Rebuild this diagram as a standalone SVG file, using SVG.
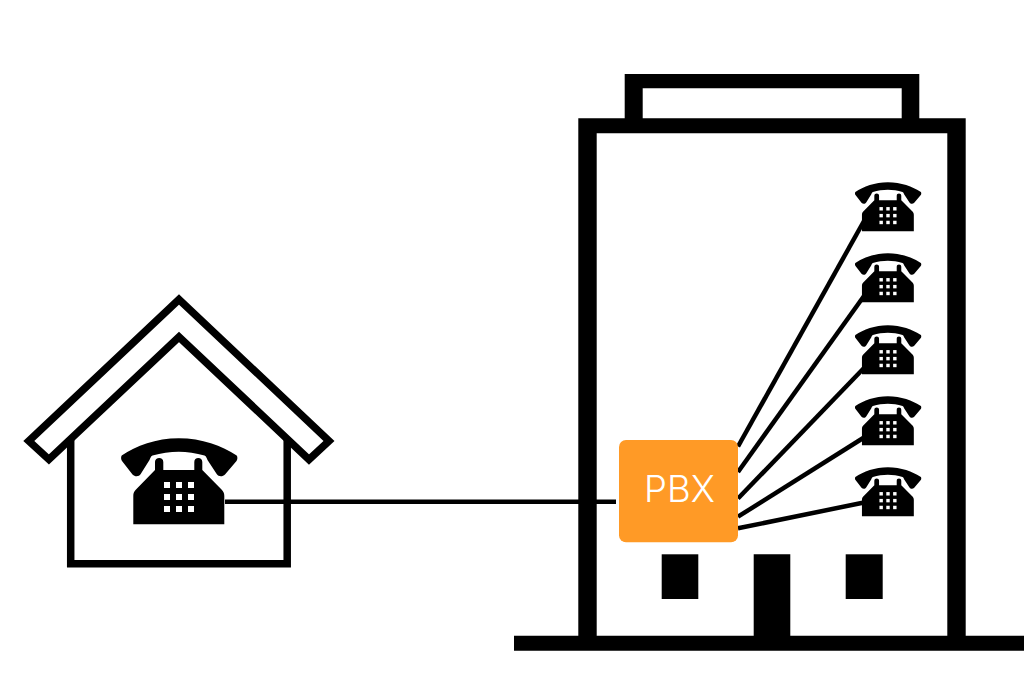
<svg xmlns="http://www.w3.org/2000/svg" width="1024" height="693" viewBox="0 0 1024 693">
<style>
.ink{fill:#000}
.wire{stroke:#000;stroke-width:4.500;fill:none}
.outline{stroke:#000;stroke-width:7.500;fill:none;stroke-linejoin:miter}
.key{fill:#fff}
.label{font-family:"Inter","Open Sans","Liberation Sans",sans-serif;font-weight:300;font-size:36.500px;fill:#fff}
</style>
<defs>
<g id="phone">
<path class="ink" d="M121.700 455.500C136 446 156 438.300 178.800 438.300C202 438.300 222 446 236.700 455.500C237.800 457 237.500 459.500 236.500 461L225 474.500C222.500 477 218.500 476.800 216.700 474L207.500 460C206.500 458 206.500 456.500 204.500 455.500C196 453 187 451.700 178.800 451.700C170 451.700 161 453 152.500 455.500C150.500 456.500 150.500 458 149.500 460L140.700 474C139 476.800 135 477 132.500 474.500L122 461C121 459.500 120.700 457 121.700 455.500Z"/>
<path class="ink" d="M133.300 524.300V496C133.300 493 134 491.500 136 489.500L155 470V462C155 459.500 157 458 159.200 458C161.500 458 163.300 459.500 163.300 462V470H194.300V462C194.300 459.500 196 458 198.300 458C200.500 458 202.300 459.500 202.300 462V470L221.500 489.500C223.500 491.500 224.300 493 224.300 496V524.300Z"/>
<g class="key">
<rect x="164" y="482" width="6" height="6"/><rect x="176" y="482" width="6" height="6"/><rect x="188" y="482" width="6" height="6"/>
<rect x="164" y="494" width="6" height="6"/><rect x="176" y="494" width="6" height="6"/><rect x="188" y="494" width="6" height="6"/>
<rect x="164" y="506" width="6" height="6"/><rect x="176" y="506" width="6" height="6"/><rect x="188" y="506" width="6" height="6"/>
</g>
</g>
</defs>
<rect width="1024" height="693" fill="#fff"/>
<g id="house">
<path class="outline" d="M70.700 436V563.700H287.200V436"/>
<path class="outline" style="fill:#fff" d="M179 299.400L329 441L309 459.500L179 336.900L48.900 459.500L28.800 441Z"/>
</g>
<g id="building">
<path class="ink" fill-rule="evenodd" d="M624.700 74H919.300V118.300H965.700V635.700H1024V650.700H514V635.700H578.300V118.300H624.700ZM642.700 88.300V118.300H901.700V88.300ZM596.700 133.300V635.700H753.700V554.300H790.300V635.700H947.300V133.300Z"/>
<rect class="ink" x="661.700" y="554.300" width="36.600" height="44.700"/>
<rect class="ink" x="845.700" y="554.300" width="37" height="44.700"/>
</g>
<g id="connectors">
<line class="wire" x1="225" y1="501.700" x2="616" y2="501.700"/>
<line class="wire" x1="738" y1="446.500" x2="864" y2="221"/>
<line class="wire" x1="738" y1="472" x2="864" y2="296"/>
<line class="wire" x1="738" y1="498.500" x2="864" y2="368"/>
<line class="wire" x1="738" y1="516.700" x2="864" y2="437.500"/>
<line class="wire" x1="738" y1="528.300" x2="864" y2="502.500"/>
</g>
<g id="home-phone"><use href="#phone"/></g>
<g id="office-phone-1"><use href="#phone" transform="translate(888 182) scale(.57) translate(-179 -438)"/></g>
<g id="office-phone-2"><use href="#phone" transform="translate(888 253) scale(.57) translate(-179 -438)"/></g>
<g id="office-phone-3"><use href="#phone" transform="translate(888 325) scale(.57) translate(-179 -438)"/></g>
<g id="office-phone-4"><use href="#phone" transform="translate(888 396) scale(.57) translate(-179 -438)"/></g>
<g id="office-phone-5"><use href="#phone" transform="translate(888 467) scale(.57) translate(-179 -438)"/></g>
<g id="pbx">
<rect x="619" y="440" width="119" height="102.300" rx="7" fill="#ff9a26"/>
<text class="label" x="679.500" y="502" text-anchor="middle">PBX</text>
</g>
</svg>
